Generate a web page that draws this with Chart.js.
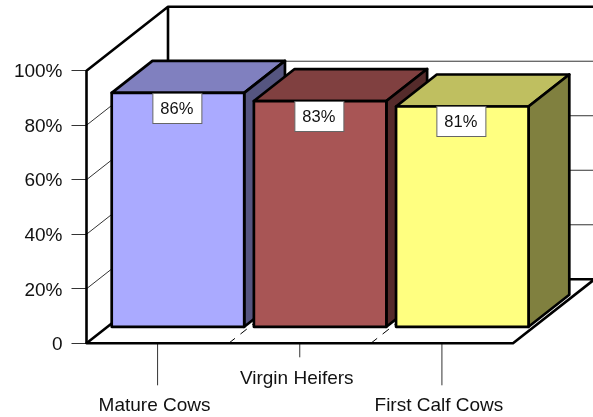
<!DOCTYPE html>
<html>
<head>
<meta charset="utf-8">
<title>Chart</title>
<script src="https://cdn.jsdelivr.net/npm/chart.js@4"></script>
<style>
    html, body { margin: 0; padding: 0; background: #fff; }
    canvas { display: block; }
</style>
</head>
<body>
<canvas id="myChart" width="593" height="417"></canvas>
<script>
const categories = ['Mature Cows', 'Virgin Heifers', 'First Calf Cows'];
const values = [86, 83, 81];
const valueLabels = ['86%', '83%', '81%'];
const yTickLabels = ['0', '20%', '40%', '60%', '80%', '100%'];

const frontColors = ['#AAAAFF', '#A85555', '#FFFF80'];
const topColors = ['#8080BF', '#804040', '#BFBF60'];
const sideColors = ['#555580', '#552B2B', '#80803F'];

// oblique projection of the "3D" box
const depthX = 81.5;
const depthY = -64;
const barStart = 0.25;
const barDepth = 0.5;
const fontName = '"Liberation Sans", Arial, sans-serif';

const box3d = {
    id: 'box3d',

    // walls and floor go under the bars
    beforeDatasetsDraw(chart) {
        const ctx = chart.ctx;
        const area = chart.chartArea;
        const y = chart.scales.y;
        const x = chart.scales.x;

        ctx.save();

        // gridlines on the side wall and the back wall
        ctx.strokeStyle = '#333';
        ctx.lineWidth = 1;
        y.ticks.forEach(tick => {
            if (tick.value === 0 || tick.value === 100) return;
            const py = y.getPixelForValue(tick.value);
            ctx.beginPath();
            ctx.moveTo(area.left, py);
            ctx.lineTo(area.left + depthX, py + depthY);
            ctx.lineTo(area.right + depthX, py + depthY);
            ctx.stroke();
        });

        // dashed floor lines between the categories
        ctx.strokeStyle = '#000';
        ctx.setLineDash([8, 7]);
        for (let i = 1; i < categories.length; i++) {
            const px = (x.getPixelForValue(i - 1) + x.getPixelForValue(i)) / 2;
            ctx.beginPath();
            ctx.moveTo(px, area.bottom);
            ctx.lineTo(px + depthX, area.bottom + depthY);
            ctx.stroke();
        }
        ctx.setLineDash([]);

        // long and short ticks under the category labels
        ctx.strokeStyle = '#333';
        const tickEnds = [42, 14, 42];
        categories.forEach((c, i) => {
            const px = x.getPixelForValue(i);
            ctx.beginPath();
            ctx.moveTo(px, area.bottom);
            ctx.lineTo(px, area.bottom + tickEnds[i]);
            ctx.stroke();
        });

        ctx.strokeStyle = '#000';
        ctx.lineWidth = 2.6;
        ctx.lineJoin = 'round';

        // walls
        ctx.beginPath();
        ctx.moveTo(area.left, area.bottom);
        ctx.lineTo(area.left, area.top);
        ctx.lineTo(area.left + depthX, area.top + depthY);
        ctx.lineTo(area.right + depthX, area.top + depthY);
        ctx.moveTo(area.left + depthX, area.top + depthY);
        ctx.lineTo(area.left + depthX, area.bottom + depthY);
        ctx.stroke();

        // floor
        ctx.beginPath();
        ctx.moveTo(area.left, area.bottom);
        ctx.lineTo(area.right, area.bottom);
        ctx.lineTo(area.right + depthX, area.bottom + depthY);
        ctx.lineTo(area.left + depthX, area.bottom + depthY);
        ctx.closePath();
        ctx.stroke();

        ctx.restore();
    },

    // bars are drawn here left to right, each one covers the side of the one before
    beforeDatasetDraw(chart, args) {
        const ctx = chart.ctx;
        const dx = depthX * barDepth;
        const dy = depthY * barDepth;

        args.meta.data.forEach((bar, i) => {
            const w = bar.width / 2;
            const left = bar.x - w;
            const right = bar.x + w;

            ctx.save();
            ctx.translate(depthX * barStart, depthY * barStart);
            ctx.strokeStyle = '#000';
            ctx.lineWidth = 2.7;
            ctx.lineJoin = 'round';

            ctx.fillStyle = topColors[i];
            ctx.beginPath();
            ctx.moveTo(left, bar.y);
            ctx.lineTo(left + dx, bar.y + dy);
            ctx.lineTo(right + dx, bar.y + dy);
            ctx.lineTo(right, bar.y);
            ctx.closePath();
            ctx.fill();
            ctx.stroke();

            ctx.fillStyle = sideColors[i];
            ctx.beginPath();
            ctx.moveTo(right, bar.y);
            ctx.lineTo(right + dx, bar.y + dy);
            ctx.lineTo(right + dx, bar.base + dy);
            ctx.lineTo(right, bar.base);
            ctx.closePath();
            ctx.fill();
            ctx.stroke();

            bar.draw(ctx);
            ctx.strokeRect(left, bar.y, bar.width, bar.base - bar.y);
            ctx.restore();
        });
        return false;
    },

    // value boxes on top of everything
    afterDatasetsDraw(chart) {
        const ctx = chart.ctx;
        const bars = chart.getDatasetMeta(0).data;
        ctx.save();
        ctx.translate(depthX * barStart, depthY * barStart);
        ctx.font = '16.5px ' + fontName;
        ctx.textAlign = 'center';
        ctx.textBaseline = 'middle';
        bars.forEach((bar, i) => {
            const bx = Math.round(bar.x - 25.5) + 0.5;
            const by = Math.round(bar.y) + 0.5;
            ctx.fillStyle = '#fff';
            ctx.fillRect(bx, by, 49, 30);
            ctx.strokeStyle = '#666';
            ctx.lineWidth = 1;
            ctx.strokeRect(bx, by, 49, 30);
            ctx.fillStyle = '#111';
            ctx.fillText(valueLabels[i], bx + 24, by + 16);
        });
        ctx.restore();
    }
};

new Chart('myChart', {
    type: 'bar',
    plugins: [box3d],
    data: {
        labels: categories,
        datasets: [{
            data: values,
            backgroundColor: frontColors,
            borderWidth: 0,
            barPercentage: 0.932,
            categoryPercentage: 1,
        }],
    },
    options: {
        responsive: false,
        animation: false,
        layout: { padding: { top: 70.7, right: 80 } },
        plugins: {
            legend: { display: false },
            title: { display: false },
            tooltip: { enabled: false },
        },
        scales: {
            x: {
                afterFit: scale => { scale.height = 73.7; },
                grid: { display: false },
                border: { display: false },
                ticks: {
                    autoSkip: false,
                    maxRotation: 0,
                    padding: 14,
                    labelOffset: -3,
                    color: '#111',
                    font: { family: fontName, size: 19, lineHeight: 1.42 },
                    // every other label sits one row lower
                    callback: (value, i) => i % 2 === 0 ? ['', categories[i]] : categories[i],
                },
            },
            y: {
                min: 0,
                max: 100,
                afterFit: scale => { scale.width = 86.5; },
                grid: { drawOnChartArea: false, tickLength: 15, color: '#333' },
                border: { display: false },
                ticks: {
                    stepSize: 20,
                    padding: 9,
                    labelOffset: 1.5,
                    color: '#111',
                    font: { family: fontName, size: 19 },
                    callback: (value, i) => yTickLabels[i],
                },
            },
        },
    },
});
</script>
</body>
</html>
